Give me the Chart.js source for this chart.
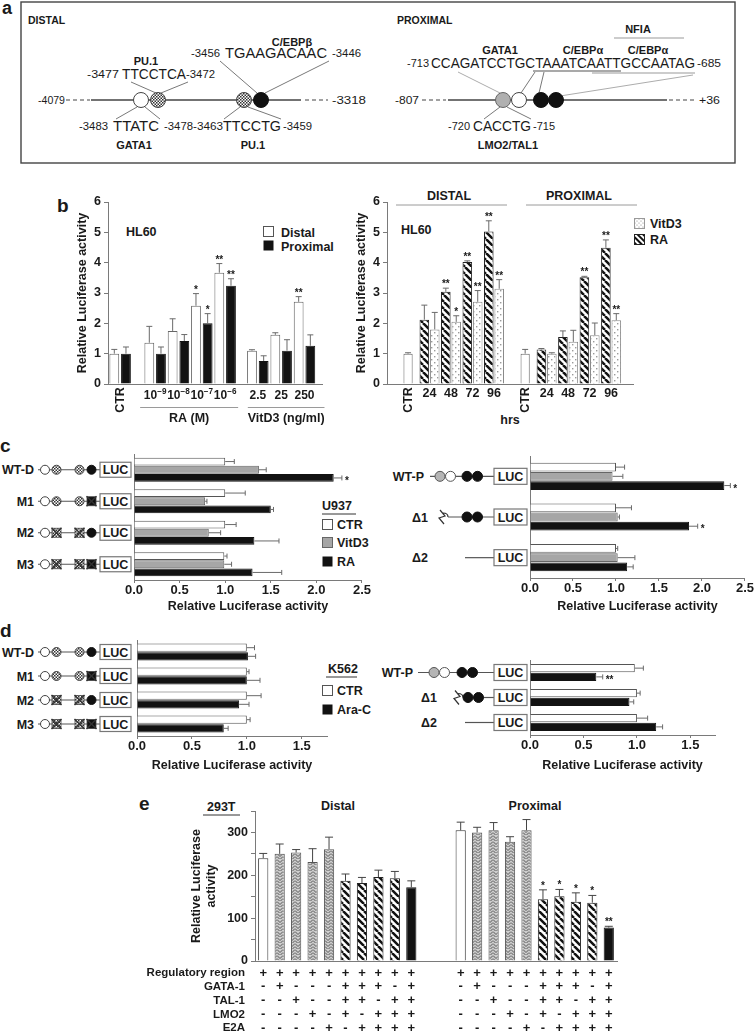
<!DOCTYPE html>
<html>
<head>
<meta charset="utf-8">
<title>Luciferase reporter figure</title>
<script src="https://cdn.jsdelivr.net/npm/chart.js@4.4.1/dist/chart.umd.min.js"></script>
<style>
  html, body { margin: 0; padding: 0; background: #fff; }
  #page { position: relative; width: 754px; height: 1036px; overflow: hidden; background: #fff; }
  #page canvas { position: absolute; }
  #art { position: absolute; left: 0; top: 0; }
  #art text { font-family: "Liberation Sans", Arial, Helvetica, sans-serif; fill: #1a1a1a; }
</style>
</head>
<body>
<div id="page">
  <svg id="art" width="754" height="1036" xmlns="http://www.w3.org/2000/svg"></svg>
  <canvas id="b1"></canvas>
  <canvas id="b2"></canvas>
  <canvas id="c1"></canvas>
  <canvas id="c2"></canvas>
  <canvas id="d1"></canvas>
  <canvas id="d2"></canvas>
  <canvas id="e"></canvas>
</div>
<script>
// ---------- data ----------

// b, left: HL60 dose response
const B1_LABELS = ['CTR', '10^-9', '10^-8', '10^-7', '10^-6', '2.5', '25', '250'];
const B1_DISTAL = [1.0, 1.36, 1.75, 2.58, 3.67, 1.1, 1.62, 2.71];
const B1_DISTAL_ERR = [0.14, 0.54, 0.4, 0.4, 0.3, 0.03, 0.07, 0.17];
const B1_PROX = [1.0, 1.0, 1.42, 2.0, 3.24, 0.76, 1.1, 1.26];
const B1_PROX_ERR = [0.22, 0.22, 0.21, 0.32, 0.23, 0.17, 0.36, 0.36];
const B1_DISTAL_SIG = ['', '', '', '*', '**', '', '', '**'];
const B1_PROX_SIG = ['', '', '', '*', '**', '', '', ''];

// b, right: HL60 time course (hrs)
const B2_HOURS = ['24', '48', '72', '96'];
const B2_CTR = [1.0, 1.0];            // distal, proximal
const B2_CTR_ERR = [0.03, 0.14];
const B2_DIST_RA = [2.12, 3.04, 4.02, 5.03];
const B2_DIST_RA_ERR = [0.48, 0.12, 0.04, 0.35];
const B2_DIST_VIT = [1.8, 2.05, 2.71, 3.14];
const B2_DIST_VIT_ERR = [0.56, 0.2, 0.37, 0.3];
const B2_PROX_RA = [1.14, 1.55, 3.52, 4.49];
const B2_PROX_RA_ERR = [0.03, 0.2, 0.03, 0.26];
const B2_PROX_VIT = [1.0, 1.39, 1.61, 2.1];
const B2_PROX_VIT_ERR = [0.03, 0.38, 0.4, 0.22];
const B2_DIST_RA_SIG = ['', '**', '**', '**'];
const B2_DIST_VIT_SIG = ['', '*', '**', '**'];
const B2_PROX_RA_SIG = ['', '', '**', '**'];
const B2_PROX_VIT_SIG = ['', '', '', '**'];

// c: U937
const DIST_CONSTRUCTS = ['WT-D', 'M1', 'M2', 'M3'];
const PROX_CONSTRUCTS = ['WT-P', 'Δ1', 'Δ2'];
const C1_CTR = [1.0, 1.0, 1.0, 0.99];
const C1_CTR_ERR = [0.1, 0.22, 0.12, 0.03];
const C1_VIT = [1.37, 0.78, 0.82, 0.99];
const C1_VIT_ERR = [0.08, 0.02, 0.13, 0.08];
const C1_RA = [2.19, 1.5, 1.32, 1.3];
const C1_RA_ERR = [0.09, 0.03, 0.27, 0.32];
const C1_RA_SIG = ['*', '', '', ''];
const C2_CTR = [1.0, 1.0, 1.0];
const C2_CTR_ERR = [0.1, 0.18, 0.02];
const C2_VIT = [0.96, 1.02, 1.02];
const C2_VIT_ERR = [0.12, 0.02, 0.2];
const C2_RA = [2.26, 1.85, 1.13];
const C2_RA_ERR = [0.07, 0.1, 0.07];
const C2_RA_SIG = ['*', '*', ''];

// d: K562
const D1_CTR = [1.0, 1.0, 1.0, 1.0];
const D1_CTR_ERR = [0.07, 0.02, 0.13, 0.03];
const D1_ARAC = [1.01, 1.0, 0.93, 0.79];
const D1_ARAC_ERR = [0.07, 0.12, 0.09, 0.04];
const D2_CTR = [0.98, 1.0, 1.0];
const D2_CTR_ERR = [0.08, 0.03, 0.1];
const D2_ARAC = [0.62, 0.93, 1.18];
const D2_ARAC_ERR = [0.06, 0.04, 0.06];
const D2_ARAC_SIG = ['**', '', ''];

// e: 293T co-transfection
const E_DISTAL = [240, 250, 253, 231, 261, 187, 182, 196, 193, 172];
const E_DISTAL_ERR = [11, 23, 7, 31, 28, 16, 13, 16, 16, 15];
const E_PROX = [305, 300, 305, 278, 305, 144, 151, 138, 136, 78];
const E_PROX_ERR = [19, 12, 18, 12, 25, 22, 16, 21, 17, 3];
const E_PROX_SIG = ['', '', '', '', '', '*', '*', '*', '*', '**'];
const E_KIND = ['ctr', 'one', 'one', 'one', 'one', 'mix', 'mix', 'mix', 'mix', 'all'];
const E_ROWS = ['Regulatory region', 'GATA-1', 'TAL-1', 'LMO2', 'E2A'];
const E_SIGNS = ['++++++++++', '-+---+++-+', '--+--++-++', '---+-+-+++', '----+-++++'];

// ---------- style ----------
const FONT = '"Liberation Sans", Arial, Helvetica, sans-serif';
const INK = '#1a1a1a';
const AXIS = '#7a7a7a';
const ERR = '#6a6a6a';

Chart.defaults.font.family = FONT;
Chart.defaults.font.weight = 'bold';
Chart.defaults.color = INK;
Chart.defaults.animation = false;
Chart.defaults.plugins.legend.display = false;
Chart.defaults.plugins.tooltip.enabled = false;

function makePattern(size, paint) {
  const c = document.createElement('canvas');
  c.width = c.height = size;
  const g = c.getContext('2d');
  paint(g, size);
  return g.createPattern(c, 'repeat');
}
const HATCH = makePattern(7, (g, s) => {
  g.fillStyle = '#fff'; g.fillRect(0, 0, s, s);
  g.strokeStyle = '#111'; g.lineWidth = 2.5;
  g.beginPath();
  for (const k of [-s, 0, s]) { g.moveTo(k, 0); g.lineTo(k + s, s); }
  g.stroke();
});
const DOTS = makePattern(6, (g, s) => {
  g.fillStyle = '#fff'; g.fillRect(0, 0, s, s);
  g.fillStyle = '#9a9a9a';
  g.fillRect(1, 1, 1.4, 1.4); g.fillRect(4, 4, 1.4, 1.4);
});
const ZIGZAG = makePattern(6, (g, s) => {
  g.fillStyle = '#cdcdcd'; g.fillRect(0, 0, s, s);
  g.strokeStyle = '#555'; g.lineWidth = 1;
  g.beginPath();
  g.moveTo(0, 0.5); g.lineTo(3, 3.5); g.lineTo(6, 0.5);
  g.moveTo(0, 3.5); g.lineTo(3, 6.5); g.lineTo(6, 3.5);
  g.stroke();
});

// ---------- helpers ----------
// put a canvas so that its chart area lands on `area` (page pixels)
function mount(id, area, wy, hx, pad) {
  const c = document.getElementById(id);
  const left = area.l - wy - pad.left, top = area.t - pad.top;
  const w = area.r + pad.right - left, h = area.b + hx + pad.bottom - top;
  c.width = w; c.height = h;
  c.style.left = left + 'px'; c.style.top = top + 'px';
  c.style.width = w + 'px'; c.style.height = h + 'px';
  return { canvas: c, left, top, pad };
}

function valueAxis(o) {
  return {
    type: 'linear', min: o.min, max: o.max, offset: false,
    ticks: { stepSize: o.step, includeBounds: false, padding: o.tickPad, font: { size: o.font }, color: INK, callback: o.cb },
    grid: { display: true, drawOnChartArea: false, drawTicks: true, tickLength: o.tickLen, color: AXIS },
    border: { display: true, color: AXIS, width: 1 },
    title: o.title ? { display: true, text: o.title, color: INK, font: { size: 12.5, weight: 'bold' }, padding: { top: 4, bottom: 4 } } : { display: false },
    afterFit: o.fit
  };
}

const errorBars = {
  id: 'errorBars',
  afterDatasetsDraw(chart) {
    const ctx = chart.ctx;
    const horiz = chart.options.indexAxis === 'y';
    const vs = horiz ? chart.scales.x : chart.scales.y;
    chart.data.datasets.forEach((ds, di) => {
      if (!ds.errors) return;
      const cap = ds.cap || 3;
      chart.getDatasetMeta(di).data.forEach((bar, i) => {
        const v = ds.vals[i], e = ds.errors[i];
        if (v == null || e == null) return;
        const tip = vs.getPixelForValue(v + e);
        ctx.save();
        ctx.strokeStyle = ds.errColor || ERR; ctx.lineWidth = 1;
        ctx.beginPath();
        if (horiz) {
          ctx.moveTo(bar.x, bar.y); ctx.lineTo(tip, bar.y);
          ctx.moveTo(tip, bar.y - cap); ctx.lineTo(tip, bar.y + cap);
        } else {
          ctx.moveTo(bar.x, bar.y); ctx.lineTo(bar.x, tip);
          ctx.moveTo(bar.x - cap, tip); ctx.lineTo(bar.x + cap, tip);
        }
        ctx.stroke();
        const s = ds.sig && ds.sig[i];
        if (s) {
          ctx.fillStyle = INK; ctx.font = `bold 10px ${FONT}`;
          ctx.textBaseline = 'alphabetic';
          if (horiz) { ctx.textAlign = 'left'; ctx.fillText(s, tip + 3, bar.y + 6); }
          else { ctx.textAlign = 'center'; ctx.fillText(s, bar.x, tip - 1); }
        }
        ctx.restore();
      });
    });
  }
};

function hText(ctx, s, x, y, size, align) {
  ctx.font = `bold ${size}px ${FONT}`;
  ctx.textAlign = align || 'center'; ctx.textBaseline = 'middle';
  ctx.fillText(s, x, y);
}
function vText(ctx, s, x, y, size) {
  ctx.save(); ctx.translate(x, y); ctx.rotate(-Math.PI / 2);
  hText(ctx, s, 0, 0, size);
  ctx.restore();
}
function powText(ctx, s, x, y, size) {
  const [base, exp] = s.split('^');
  const es = size * 0.68, ex = exp.replace('-', '\u2212');
  ctx.font = `bold ${size}px ${FONT}`; const wb = ctx.measureText(base).width;
  ctx.font = `bold ${es}px ${FONT}`; const we = ctx.measureText(ex).width;
  const x0 = x - (wb + we) / 2;
  ctx.textAlign = 'left'; ctx.textBaseline = 'middle';
  ctx.font = `bold ${size}px ${FONT}`; ctx.fillText(base, x0, y);
  ctx.font = `bold ${es}px ${FONT}`; ctx.fillText(ex, x0 + wb, y - size * 0.33);
}
function hLine(ctx, x1, x2, y, color) {
  ctx.save(); ctx.strokeStyle = color; ctx.lineWidth = 1;
  ctx.beginPath(); ctx.moveTo(x1, y + 0.5); ctx.lineTo(x2, y + 0.5); ctx.stroke();
  ctx.restore();
}

// ---------- b, left ----------
const B1_POS = [0, 1.5, 2.5, 3.5, 4.5, 5.9, 6.9, 7.9];   // group centres on the x scale
const B1_GROUPS = [{ name: 'RA (M)', first: 1, last: 4, l: 15, r: 13 }, { name: 'VitD3 (ng/ml)', first: 5, last: 7, l: 10, r: 20 }];
const mb1 = mount('b1', { l: 108, t: 202, r: 322, b: 384 }, 37, 52, { left: 4, right: 6, top: 12, bottom: 2 });
new Chart(mb1.canvas, {
  type: 'bar',
  data: {
    datasets: [
      { label: 'Distal', data: B1_POS.map((x, i) => ({ x, y: B1_DISTAL[i] })), vals: B1_DISTAL, errors: B1_DISTAL_ERR, sig: B1_DISTAL_SIG,
        backgroundColor: '#fff', borderColor: '#666', borderWidth: 1 },
      { label: 'Proximal', data: B1_POS.map((x, i) => ({ x, y: B1_PROX[i] })), vals: B1_PROX, errors: B1_PROX_ERR, sig: B1_PROX_SIG,
        backgroundColor: '#121212', borderColor: '#121212', borderWidth: 1 }
    ]
  },
  options: {
    responsive: false, devicePixelRatio: 1, layout: { padding: mb1.pad },
    datasets: { bar: { categoryPercentage: 1, barPercentage: 0.84 } },
    scales: {
      x: { type: 'linear', min: -0.52, max: 8.65, offset: false,
           afterBuildTicks: s => { s.ticks = B1_POS.map(v => ({ value: v })); },
           ticks: { display: false }, grid: { display: false }, border: { color: AXIS },
           afterFit: s => { s.height = 52; } },
      y: valueAxis({ min: 0, max: 6, step: 1, font: 12.5, tickPad: 3, tickLen: 4, cb: v => v,
                     title: 'Relative Luciferase activity', fit: s => { s.width = 37; } })
    }
  },
  plugins: [errorBars, {
    id: 'b1x',
    afterDraw(chart) {
      const { ctx, chartArea: { bottom } } = chart, x = chart.scales.x;
      ctx.save(); ctx.fillStyle = INK;
      B1_LABELS.forEach((lab, i) => {
        const px = x.getPixelForValue(B1_POS[i]);
        if (lab === 'CTR') vText(ctx, lab, px, bottom + 16, 12.5);
        else if (lab.includes('^')) powText(ctx, lab, px, bottom + 12, 12);
        else hText(ctx, lab, px, bottom + 12, 12);
      });
      B1_GROUPS.forEach(g => {
        const x1 = x.getPixelForValue(B1_POS[g.first]) - g.l, x2 = x.getPixelForValue(B1_POS[g.last]) + g.r;
        hLine(ctx, x1, x2, bottom + 23, '#9a9a9a');
        hText(ctx, g.name, (x1 + x2) / 2, bottom + 35, 12.5);
      });
      ctx.restore();
    }
  }]
});

// ---------- b, right ----------
const B2_OFF = 5.45;   // proximal block offset on the x scale
const b2x = {
  ctr: [0, B2_OFF],
  pairs: [...B2_HOURS.map((_, i) => i + 1), ...B2_HOURS.map((_, i) => B2_OFF + i + 1)]
};
const pts = (xs, ys) => xs.map((x, i) => ({ x, y: ys[i] }));
const mb2 = mount('b2', { l: 387, t: 202, r: 633, b: 384 }, 37, 44, { left: 4, right: 6, top: 12, bottom: 2 });
const b2RA = [...B2_DIST_RA, ...B2_PROX_RA], b2VIT = [...B2_DIST_VIT, ...B2_PROX_VIT];
new Chart(mb2.canvas, {
  type: 'bar',
  data: {
    datasets: [
      { label: 'CTR', data: pts(b2x.ctr, B2_CTR), vals: B2_CTR, errors: B2_CTR_ERR, grouped: false,
        categoryPercentage: 0.45, barPercentage: 0.95, backgroundColor: '#fff', borderColor: '#666', borderWidth: 1 },
      { label: 'RA', data: pts(b2x.pairs, b2RA), vals: b2RA, errors: [...B2_DIST_RA_ERR, ...B2_PROX_RA_ERR],
        sig: [...B2_DIST_RA_SIG, ...B2_PROX_RA_SIG], categoryPercentage: 0.97, barPercentage: 0.92,
        backgroundColor: HATCH, borderColor: '#222', borderWidth: 1 },
      { label: 'VitD3', data: pts(b2x.pairs, b2VIT), vals: b2VIT, errors: [...B2_DIST_VIT_ERR, ...B2_PROX_VIT_ERR],
        sig: [...B2_DIST_VIT_SIG, ...B2_PROX_VIT_SIG], categoryPercentage: 0.97, barPercentage: 0.92,
        backgroundColor: DOTS, borderColor: '#8a8a8a', borderWidth: 1 }
    ]
  },
  options: {
    responsive: false, devicePixelRatio: 1, layout: { padding: mb2.pad },
    scales: {
      x: { type: 'linear', min: -0.98, max: 10.47, offset: false,
           afterBuildTicks: s => { s.ticks = [...b2x.ctr, ...b2x.pairs].sort((a, b) => a - b).map(v => ({ value: v })); },
           ticks: { display: false }, grid: { display: false }, border: { color: AXIS },
           afterFit: s => { s.height = 44; } },
      y: valueAxis({ min: 0, max: 6, step: 1, font: 12.5, tickPad: 3, tickLen: 4, cb: v => v,
                     title: 'Relative Luciferase activity', fit: s => { s.width = 37; } })
    }
  },
  plugins: [errorBars, {
    id: 'b2x',
    afterDraw(chart) {
      const { ctx, chartArea: { bottom } } = chart, x = chart.scales.x;
      ctx.save(); ctx.fillStyle = INK;
      b2x.ctr.forEach(v => vText(ctx, 'CTR', x.getPixelForValue(v), bottom + 16, 12.5));
      b2x.pairs.forEach((v, i) => hText(ctx, B2_HOURS[i % B2_HOURS.length], x.getPixelForValue(v), bottom + 10, 12.5));
      ctx.restore();
    }
  }]
});

// ---------- c and d: horizontal bars ----------
function hbar(id, area, hx, names, max, sets) {
  const m = mount(id, area, 0, hx, { left: 14, right: 9, top: 4, bottom: 2 });
  const chart = new Chart(m.canvas, {
    type: 'bar',
    data: { labels: names, datasets: sets },
    options: {
      indexAxis: 'y', responsive: false, devicePixelRatio: 1, layout: { padding: m.pad },
      scales: {
        y: { type: 'category', offset: true, ticks: { display: false }, grid: { display: false },
             border: { display: true, color: AXIS }, afterFit: s => { s.width = 0; } },
        x: valueAxis({ min: 0, max, step: 0.5, font: 13, tickPad: 0, tickLen: 3, cb: v => v.toFixed(1),
                       title: 'Relative Luciferase activity', fit: s => { s.height = hx; } })
      }
    },
    plugins: [errorBars]
  });
  return { chart, m };
}
const barSet = (label, vals, errors, color, border, pct, sig) => ({
  label, data: vals, vals, errors, sig, cap: 2.5, backgroundColor: color, borderColor: border, borderWidth: 1,
  categoryPercentage: pct, barPercentage: 0.95
});

const c1 = hbar('c1', { l: 134, t: 454, r: 362, b: 580 }, 38, DIST_CONSTRUCTS, 2.5, [
  barSet('CTR', C1_CTR, C1_CTR_ERR, '#fff', '#555', 0.78),
  barSet('VitD3', C1_VIT, C1_VIT_ERR, '#a6a6a6', '#666', 0.78),
  barSet('RA', C1_RA, C1_RA_ERR, '#121212', '#121212', 0.78, C1_RA_SIG)
]);
const c2 = hbar('c2', { l: 530, t: 456, r: 745, b: 578 }, 40, PROX_CONSTRUCTS, 2.5, [
  barSet('CTR', C2_CTR, C2_CTR_ERR, '#fff', '#555', 0.68),
  barSet('VitD3', C2_VIT, C2_VIT_ERR, '#a6a6a6', '#666', 0.68),
  barSet('RA', C2_RA, C2_RA_ERR, '#121212', '#121212', 0.68, C2_RA_SIG)
]);
const d1 = hbar('d1', { l: 137, t: 640, r: 327, b: 736 }, 41, DIST_CONSTRUCTS, 1.73, [
  barSet('CTR', D1_CTR, D1_CTR_ERR, '#fff', '#555', 0.72),
  barSet('Ara-C', D1_ARAC, D1_ARAC_ERR, '#121212', '#121212', 0.72)
]);
const d2 = hbar('d2', { l: 530, t: 660, r: 715, b: 735 }, 42, PROX_CONSTRUCTS, 1.73, [
  barSet('CTR', D2_CTR, D2_CTR_ERR, '#fff', '#555', 0.7),
  barSet('Ara-C', D2_ARAC, D2_ARAC_ERR, '#121212', '#121212', 0.7, D2_ARAC_SIG)
]);

// ---------- e ----------
const E_GAP = 2;
const gap = v => Array(E_GAP).fill(v);
const E_VALUES = [...E_DISTAL, ...gap(null), ...E_PROX];
const E_ERRS = [...E_DISTAL_ERR, ...gap(null), ...E_PROX_ERR];
const E_SIG = [...E_DISTAL.map(() => ''), ...gap(''), ...E_PROX_SIG];
const E_KINDS = [...E_KIND, ...gap('ctr'), ...E_KIND];
const E_FILL = { ctr: ['#fff', '#333'], one: [ZIGZAG, '#555'], mix: [HATCH, '#222'], all: ['#121212', '#121212'] };
const me = mount('e', { l: 255, t: 811, r: 617, b: 961 }, 70, 75, { left: 52, right: 10, top: 12, bottom: 0 });
new Chart(me.canvas, {
  type: 'bar',
  data: {
    labels: E_VALUES.map((_, i) => 'col' + i),
    datasets: [{
      data: E_VALUES, vals: E_VALUES, errors: E_ERRS, sig: E_SIG, cap: 4, errColor: '#444',
      backgroundColor: E_KINDS.map(k => E_FILL[k][0]), borderColor: E_KINDS.map(k => E_FILL[k][1]), borderWidth: 1,
      categoryPercentage: 1, barPercentage: 0.62
    }]
  },
  options: {
    responsive: false, devicePixelRatio: 1, layout: { padding: me.pad },
    scales: {
      x: { type: 'category', offset: true, ticks: { display: false }, grid: { display: false },
           border: { display: true, color: AXIS }, afterFit: s => { s.height = 75; } },
      y: Object.assign(valueAxis({ min: 0, max: 350, step: 50, font: 12.5, tickPad: 3, tickLen: 4,
                                   cb: v => (v % 100 === 0 ? v : ''), fit: s => { s.width = 70; } }),
                       { title: { display: true, text: ['Relative Luciferase', 'activity'], color: INK,
                                  font: { size: 12.5, weight: 'bold' }, padding: { top: 4, bottom: 4 } } })
    }
  },
  plugins: [errorBars, {
    id: 'eTable',
    afterDraw(chart) {
      const { ctx, chartArea: { left, bottom } } = chart, x = chart.scales.x;
      ctx.save(); ctx.fillStyle = INK;
      E_ROWS.forEach((name, r) => {
        const y = bottom + 12 + r * 13.8;
        hText(ctx, name, left - 10, y, 11.5, 'right');
        const marks = [...E_SIGNS[r], ...gap(''), ...E_SIGNS[r]];
        marks.forEach((m, i) => { if (m) hText(ctx, m, x.getPixelForValue(i), y, 13); });
      });
      ctx.restore();
    }
  }]
});

// ---------- SVG: panel a, constructs, legends, captions ----------
const svg = [];
const esc = s => String(s).replace(/&/g, '&amp;').replace(/</g, '&lt;');
function txt(x, y, s, o = {}) {
  let a = `x="${x}" y="${y}" font-size="${o.size || 12.5}"`;
  a += o.regular ? ' font-weight="normal"' : ' font-weight="bold"';
  if (o.anchor) a += ` text-anchor="${o.anchor}"`;
  if (o.len) a += ` textLength="${o.len}" lengthAdjust="spacingAndGlyphs"`;
  svg.push(`<text ${a}>${esc(s)}</text>`);
}
function line(x1, y1, x2, y2, color = '#444', w = 1, dash) {
  svg.push(`<line x1="${x1}" y1="${y1}" x2="${x2}" y2="${y2}" stroke="${color}" stroke-width="${w}"${dash ? ` stroke-dasharray="${dash}"` : ''}/>`);
}
function circ(cx, cy, r, fill, stroke = '#444', w = 1) {
  svg.push(`<circle cx="${cx}" cy="${cy}" r="${r}" fill="${fill}" stroke="${stroke}" stroke-width="${w}"/>`);
}
function rect(x, y, w, h, fill, stroke, sw = 1) {
  svg.push(`<rect x="${x}" y="${y}" width="${w}" height="${h}" fill="${fill}"${stroke ? ` stroke="${stroke}" stroke-width="${sw}"` : ''}/>`);
}
const num = (x, y, s, len) => txt(x, y, s, { size: 11.5, regular: true, len });
const seq = (x, y, s, len) => txt(x, y, s, { size: 15, regular: true, len });

const DEFS = `<defs>
<pattern id="checkP" width="3" height="3" patternUnits="userSpaceOnUse"><rect width="3" height="3" fill="#fff"/><rect width="1.5" height="1.5" fill="#333"/><rect x="1.5" y="1.5" width="1.5" height="1.5" fill="#333"/></pattern>
<pattern id="hatchP" width="4" height="4" patternUnits="userSpaceOnUse" patternTransform="rotate(-45)"><rect width="4" height="4" fill="#fff"/><rect width="2" height="4" fill="#111"/></pattern>
<pattern id="dotsP" width="4" height="4" patternUnits="userSpaceOnUse"><rect width="4" height="4" fill="#fff"/><circle cx="1" cy="1" r="0.6" fill="#888"/><circle cx="3" cy="3" r="0.6" fill="#888"/></pattern>
</defs>`;

// panel a
rect(21, 2, 714, 161, 'none', '#444', 1.4);
txt(2, 14, 'a', { size: 18 });
txt(28, 24, 'DISTAL', { size: 10.5 });
txt(292, 46, 'C/EBPβ', { size: 11, anchor: 'middle' });
num(191, 57, '-3456', 29); seq(225, 58, 'TGAAGACAAC', 102); num(332, 57, '-3446', 29);
txt(146, 65, 'PU.1', { size: 11, anchor: 'middle' });
num(87, 78, '-3477', 32); seq(122, 79, 'TTCCTCA', 64); num(186, 78, '-3472', 29);
line(131, 82, 156, 93, '#555', 0.8); line(188, 82, 161, 93, '#555', 0.8);
line(220, 61, 257, 93, '#555', 0.8); line(329, 61, 265, 93, '#555', 0.8);
num(38, 104, '-4079', 27);
line(66, 100, 90, 100, '#444', 1.2, '4,3'); line(91, 100, 301, 100, '#444', 1.4); line(305, 100, 328, 100, '#444', 1.2, '4,3');
num(332, 104, '-3318', 34);
circ(141, 100, 7.5, '#fff'); circ(158, 100, 7.5, 'url(#checkP)');
circ(244, 100, 7.5, 'url(#checkP)'); circ(261, 100, 7.5, '#111', '#111');
line(137, 107, 116, 119, '#555', 0.8); line(145, 107, 160, 119, '#555', 0.8);
line(240, 107, 224, 119, '#555', 0.8); line(248, 107, 281, 119, '#555', 0.8);
num(79, 130, '-3483', 29); seq(113, 131, 'TTATC', 46); num(164, 130, '-3478', 29);
num(193, 130, '-3463', 30); seq(223, 131, 'TTCCTG', 58); num(283, 130, '-3459', 29);
txt(134, 149, 'GATA1', { size: 11, anchor: 'middle' });
txt(253, 149, 'PU.1', { size: 11, anchor: 'middle' });

txt(397, 24, 'PROXIMAL', { size: 10.5 });
txt(638, 33, 'NFIA', { size: 11, anchor: 'middle' });
line(614, 38, 684, 38, '#999', 1.2);
txt(500, 54, 'GATA1', { size: 11, anchor: 'middle' });
txt(583, 54, 'C/EBPα', { size: 11, anchor: 'middle' });
txt(648, 54, 'C/EBPα', { size: 11, anchor: 'middle' });
num(407, 67, '-713', 22); seq(431, 68, 'CCAGATCCTGCTAAATCAATTGCCAATAG', 264); num(697, 67, '-685', 24);
line(533, 71, 621, 71, '#555', 1.2); line(592, 73, 695, 73, '#999', 1.2);
line(458, 72, 500, 93, '#888', 0.7); line(535, 72, 521, 93, '#555', 0.8);
line(544, 72, 539, 93, '#555', 0.8); line(693, 75, 560, 96, '#888', 0.7);
num(395, 104, '-807', 24);
line(422, 100, 446, 100, '#444', 1.2, '4,3'); line(448, 100, 667, 100, '#444', 1.4); line(669, 100, 696, 100, '#444', 1.2, '4,3');
num(699, 104, '+36', 21);
circ(503, 100, 7.5, '#b0b0b0', '#666'); circ(519, 100, 7.5, '#fff');
circ(541, 100, 7.5, '#111', '#111'); circ(556, 100, 7.5, '#111', '#111');
line(500, 107, 484, 119, '#555', 0.8); line(507, 107, 531, 119, '#555', 0.8);
num(448, 130, '-720', 22); seq(473, 131, 'CACCTG', 58); num(533, 130, '-715', 22);
txt(508, 149, 'LMO2/TAL1', { size: 11, anchor: 'middle' });

// panel b captions
txt(57, 212, 'b', { size: 19 });
txt(126, 236, 'HL60', { size: 12.5 });
rect(263.5, 226.5, 10, 10, '#fff', '#555');
txt(281, 237, 'Distal', { size: 12.5 });
rect(263.5, 240.5, 10, 10, '#121212');
txt(281, 251, 'Proximal', { size: 12.5 });
txt(401, 234, 'HL60', { size: 12.5 });
txt(449, 200, 'DISTAL', { size: 12.5, anchor: 'middle' });
line(396, 205, 507, 205, '#9a9a9a', 1);
txt(579, 200, 'PROXIMAL', { size: 12.5, anchor: 'middle' });
line(526, 205, 637, 205, '#9a9a9a', 1);
rect(634.5, 218.5, 10, 10, 'url(#dotsP)', '#999');
txt(650, 228, 'VitD3', { size: 12.5 });
rect(634.5, 234.5, 10, 10, 'url(#hatchP)', '#222');
txt(650, 244, 'RA', { size: 12.5 });
txt(510, 424, 'hrs', { size: 12.5, anchor: 'middle' });

// constructs
function luc(x, cy, w, h) {
  rect(x, cy - h / 2, w, h, '#fff', '#777', 1.2);
  txt(x + w / 2, cy + 4.5, 'LUC', { size: 12.5, anchor: 'middle' });
}
function site(x, cy, fill, mutated) {
  if (!mutated) { circ(x, cy, 4.5, fill, fill === '#111' ? '#111' : '#444'); return; }
  rect(x - 4.5, cy - 4.5, 9, 9, fill, '#444', 0.8);
  line(x - 5, cy - 5, x + 5, cy + 5, '#333', 1.4);
  line(x - 5, cy + 5, x + 5, cy - 5, '#333', 1.4);
}
const DIST_MUT = [[], ['cebp'], ['pu1'], ['pu1', 'cebp']];
function distalConstruct(name, cy, mut) {
  txt(34, cy + 4.5, name, { size: 12.5, anchor: 'end' });
  line(38, cy, 100, cy, '#555', 1.2);
  circ(45, cy, 4.5, '#fff');
  site(56.5, cy, 'url(#checkP)', mut.includes('pu1'));
  site(79.5, cy, 'url(#checkP)', mut.includes('pu1'));
  site(91.5, cy, '#111', mut.includes('cebp'));
  luc(100, cy, 31, 15);
}
function bolt(x, cy) {
  svg.push(`<path d="M${x - 2},${cy - 7} L${x + 3},${cy - 1} L${x - 3},${cy + 1} L${x + 2},${cy + 7} M${x + 1},${cy - 4} q5,0 5,4" fill="none" stroke="#333" stroke-width="1.2"/>`);
}
function proxConstruct(name, i, cy, g) {
  txt(i === 0 ? g.wtRight : g.dRight, cy + 4.5, name, { size: 12.5, anchor: 'end' });
  if (i === 0) {
    line(g.start, cy, 494, cy, '#555', 1.2);
    circ(g.gray, cy, 5, '#b5b5b5', '#555'); circ(g.gray + 10.5, cy, 5, '#fff', '#555');
    circ(g.black, cy, 5, '#111', '#111'); circ(g.black + 10.5, cy, 5, '#111', '#111');
  } else if (i === 1) {
    bolt(g.bolt, cy);
    line(g.bolt + 6, cy, 494, cy, '#555', 1.2);
    circ(g.black2, cy, 5, '#111', '#111'); circ(g.black2 + 10.5, cy, 5, '#111', '#111');
  } else {
    line(465, cy, 494, cy, '#555', 1.2);
  }
  luc(494, cy, 33, 16);
}
const groupY = (h, i) => h.m.top + h.chart.scales.y.getPixelForValue(i);
DIST_CONSTRUCTS.forEach((n, i) => distalConstruct(n, groupY(c1, i), DIST_MUT[i]));
DIST_CONSTRUCTS.forEach((n, i) => distalConstruct(n, groupY(d1, i), DIST_MUT[i]));
PROX_CONSTRUCTS.forEach((n, i) => proxConstruct(n, i, groupY(c2, i),
  { wtRight: 424, dRight: 428, start: 430, gray: 440, black: 467, bolt: 442, black2: 467 }));
PROX_CONSTRUCTS.forEach((n, i) => proxConstruct(n, i, groupY(d2, i),
  { wtRight: 413, dRight: 437, start: 418, gray: 434, black: 462, bolt: 457, black2: 468 }));

// panel c / d captions and legends
txt(0, 452, 'c', { size: 19 });
txt(322, 510, 'U937', { size: 12.5 });
line(322, 514, 356, 514, '#333', 1);
rect(322.5, 519.5, 10, 10, '#fff', '#555'); txt(337, 529, 'CTR', { size: 12.5 });
rect(322.5, 537.5, 10, 10, '#a6a6a6', '#666'); txt(337, 547, 'VitD3', { size: 12.5 });
rect(322.5, 556.5, 10, 10, '#121212'); txt(337, 566, 'RA', { size: 12.5 });
txt(0, 637, 'd', { size: 19 });
txt(328, 673, 'K562', { size: 12.5 });
line(326, 677, 357, 677, '#333', 1);
rect(322.5, 685.5, 10, 10, '#fff', '#555'); txt(337, 695, 'CTR', { size: 12.5 });
rect(322.5, 704.5, 10, 10, '#121212'); txt(337, 714, 'Ara-C', { size: 12.5 });

// panel e captions
txt(139, 810, 'e', { size: 19 });
txt(207, 811, '293T', { size: 12.5 });
line(203, 815, 240, 815, '#333', 1);
txt(338, 810, 'Distal', { size: 12.5, anchor: 'middle' });
txt(535, 810, 'Proximal', { size: 12.5, anchor: 'middle' });

document.getElementById('art').innerHTML = DEFS + svg.join('');
</script>
</body>
</html>
